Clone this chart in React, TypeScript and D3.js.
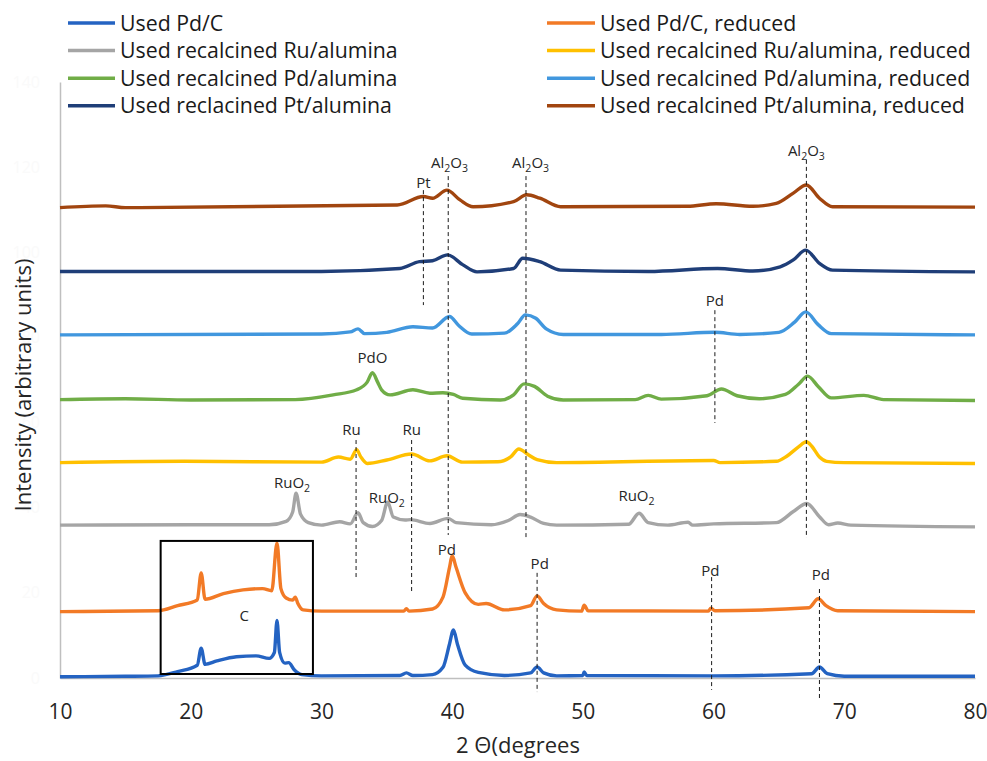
import React, { useEffect, useRef } from "react";
import * as d3 from "d3";

// legend / series
const seriesNames = [
  "Used Pd/C",
  "Used recalcined Ru/alumina",
  "Used recalcined Pd/alumina",
  "Used reclacined Pt/alumina",
  "Used Pd/C, reduced",
  "Used recalcined Ru/alumina, reduced",
  "Used recalcined Pd/alumina, reduced",
  "Used recalcined Pt/alumina, reduced",
];
const seriesColors = [
  "#2463c2",
  "#a5a5a5",
  "#70ad47",
  "#1f3e78",
  "#f27a26",
  "#ffc000",
  "#4197de",
  "#a1450f",
];

// patterns (2 theta, intensity with vertical offset)
const pdcTheta = [10, 15, 17.5, 19, 20.5, 20.8, 21.1, 22, 23.5, 25, 26, 26.4, 26.6, 26.8, 27.2, 27.5, 27.9, 28.5, 30, 36, 36.5, 37, 38.5, 39.3, 39.8, 40.1, 40.4, 41, 42, 44, 46, 46.5, 47, 48, 50, 50.1, 50.3, 60, 67.5, 68.1, 68.7, 70, 80];
const pdcI = [0.3, 0.4, 0.5, 1.5, 3.0, 7.0, 3.2, 4.0, 5.0, 5.2, 4.6, 6, 13.5, 6, 3.5, 3.6, 2, 0.8, 0.5, 0.6, 1.2, 0.6, 0.8, 2.5, 8, 11.3, 8, 3, 1.3, 0.6, 1.2, 2.6, 1.2, 0.5, 0.6, 1.4, 0.6, 0.5, 1, 2.6, 1, 0.4, 0.4];

const pdcRedTheta = [10, 17.5, 19, 20.5, 20.8, 21.1, 22.5, 24, 25.5, 26.2, 26.6, 26.9, 27.3, 27.8, 28.0, 28.2, 28.6, 30, 36.3, 36.5, 36.7, 38.5, 39.3, 39.8, 40.0, 40.3, 41, 42, 42.6, 44, 46, 46.5, 47, 48, 49.9, 50.1, 50.4, 59.6, 59.8, 60.1, 67.3, 68.0, 68.6, 69.5, 80];
const pdcRedI = [15.6, 15.8, 17, 18.3, 24.7, 18.5, 19.8, 20.7, 21, 20.5, 31.7, 21, 18.8, 18.3, 19.0, 17.5, 16, 15.7, 15.7, 16.3, 15.7, 16.2, 19, 26, 28.7, 26, 20, 17.3, 17.5, 16, 17, 19.3, 17.5, 16, 15.7, 17.1, 15.8, 15.7, 16.4, 15.8, 16.5, 18.6, 17, 15.8, 15.6];

const ruTheta = [10, 20, 26, 27.3, 27.8, 28.06, 28.4, 29, 30, 31.4, 32.2, 32.8, 33.2, 33.9, 34.6, 35.07, 35.5, 36.4, 36.8, 38.3, 39.7, 40.3, 43, 44.3, 45.2, 46.0, 47, 48, 53.5, 54.3, 55, 56.5, 58.05, 58.4, 60, 64.8, 66.1, 67.13, 68.1, 68.8, 69.5, 70.5, 80];
const ruI = [35.9, 36.0, 36.0, 36.8, 39, 43.4, 38.5, 36.5, 35.9, 36.7, 36.2, 38.8, 36.5, 35.6, 37, 41.3, 37.8, 37.1, 37.2, 36.3, 37.5, 36.5, 36, 37, 38.4, 37.8, 36.3, 35.9, 36.1, 38.7, 36.5, 35.9, 36.6, 35.9, 36.2, 36.5, 39.1, 41.0, 37.9, 36.0, 36.4, 35.9, 35.5];

const ruRedTheta = [10, 19.5, 30, 31.3, 32.2, 32.7, 33.0, 33.5, 35.0, 36.9, 38.3, 39.6, 40.8, 43.5, 44.5, 45.1, 45.8, 46.5, 48, 60, 60.5, 64.8, 65.6, 66.5, 67.1, 67.5, 68.1, 68.65, 70, 80];
const ruRedI = [50.6, 50.9, 50.7, 51.9, 51.4, 53.6, 52, 50.4, 51.2, 52.6, 51.0, 52.2, 50.7, 50.8, 52, 53.8, 52.5, 51.3, 50.6, 51.1, 50.6, 50.9, 52.1, 54.3, 55.5, 54.5, 51.9, 50.9, 50.6, 50.4];

const pdTheta = [10, 15, 20, 28, 30.9, 32.7, 33.5, 33.9, 34.3, 34.6, 35.25, 37, 38.3, 39.3, 40.1, 40.8, 43.7, 44.7, 45.5, 46.3, 47.3, 48.5, 54, 55, 56, 59.5, 60.6, 61.8, 63.5, 65.5, 66.5, 67.2, 68.0, 69, 71.5, 73, 80];
const pdI = [65.4, 65.6, 65.3, 65.4, 66.5, 67.7, 69.5, 71.7, 69.5, 67.7, 66.5, 67.7, 66.9, 67.0, 66.6, 65.7, 65.3, 66.5, 69.1, 68.5, 66.2, 65.3, 65.4, 66.4, 65.5, 66.3, 67.9, 66.3, 65.6, 66.6, 69, 70.9, 68.5, 65.8, 66.4, 65.4, 65.2];

const pdRedTheta = [10, 30, 32.2, 32.8, 33.3, 35, 37, 38.5, 39.8, 40.5, 41.5, 44, 45.0, 45.6, 46.4, 47.2, 48.5, 56, 60.1, 62, 65, 66.2, 67.05, 68, 69, 80];
const pdRedI = [80.6, 80.8, 81.3, 82.0, 80.9, 81.2, 82.5, 82.2, 84.9, 82.8, 80.8, 81.0, 83.2, 85.3, 84.5, 82, 80.7, 80.7, 81.2, 80.7, 81.2, 83.6, 86.0, 83, 80.9, 80.6];

const ptTheta = [10, 30, 36, 37.5, 38.5, 39.65, 40.8, 41.9, 44.7, 45.4, 46.7, 48.3, 55, 60.3, 63, 65.1, 66.1, 67.05, 68.1, 69.1, 80];
const ptI = [95.5, 95.5, 96.2, 97.8, 98.0, 99.4, 97.1, 95.4, 96.2, 98.6, 97.8, 95.8, 95.5, 96.2, 95.6, 96.6, 98.2, 100.5, 97.4, 95.8, 95.4];

const ptRedTheta = [10, 13.5, 15, 35.8, 37.8, 38.5, 39.6, 40.6, 41.6, 44.7, 45.7, 46.7, 48.3, 58, 60.2, 63, 64.8, 66.1, 67.1, 68.1, 69.1, 80];
const ptRedI = [110.5, 110.9, 110.5, 111.1, 113.1, 112.7, 114.6, 112.3, 110.7, 111.9, 113.5, 112.7, 110.7, 110.8, 111.4, 110.8, 111.5, 113.9, 115.8, 112.7, 110.7, 110.6];

const seriesTheta = [pdcTheta, ruTheta, pdTheta, ptTheta, pdcRedTheta, ruRedTheta, pdRedTheta, ptRedTheta];
const seriesI = [pdcI, ruI, pdI, ptI, pdcRedI, ruRedI, pdRedI, ptRedI];

// axes
const xTicks = [10, 20, 30, 40, 50, 60, 70, 80];
const yTicks = [0, 20, 40, 60, 80, 100, 120, 140];

// peak annotations
const labelText = ["Al2O3", "Al2O3", "Al2O3", "Pt", "Pd", "PdO", "Ru", "Ru", "RuO2", "RuO2", "RuO2", "Pd", "Pd", "Pd", "Pd", "C"];
const labelTheta = [39.8, 46.0, 67.1, 37.8, 60.1, 33.9, 32.3, 36.9, 27.75, 35.0, 54.1, 39.6, 46.7, 59.75, 68.2, 24.1];
const labelI = [119.8, 119.8, 122.6, 115.1, 87.4, 74.0, 57.1, 57.1, 44.6, 41.1, 41.6, 28.9, 25.6, 24.0, 23.0, 13.4];

const dashTheta = [37.8, 39.7, 45.65, 67.1, 32.65, 36.9, 60.1, 46.5, 59.85, 68.1];
const dashTop = [114.6, 117.9, 117.9, 121.7, 55.9, 55.9, 86.4, 24.7, 23.7, 20.9];
const dashBottom = [87.6, 33.6, 32.4, 32.9, 23.5, 20.2, 59.9, -3.3, -2.8, -5.2];

// carbon box (2 theta, intensity)
const boxTheta = [17.7, 29.35];
const boxI = [0.94, 32.2];

const FONT = "'Open Sans', sans-serif";

export default function App() {
  const ref = useRef<SVGSVGElement>(null);

  useEffect(() => {
    const width = 987;
    const height = 761;
    const margin = { top: 82, right: 12, bottom: 83, left: 60 };

    const svg = d3.select(ref.current);
    svg.selectAll("*").remove();

    const x = d3.scaleLinear().domain([10, 80]).range([margin.left, width - margin.right]);
    const y = d3.scaleLinear().domain([0, 140]).range([height - margin.bottom, margin.top]);

    // Eixo Y (labels nearly white, as in the source)
    const gy = svg
      .append("g")
      .attr("transform", `translate(${margin.left},0)`)
      .call(d3.axisLeft(y).tickValues(yTicks).tickSize(0).tickPadding(20));
    gy.select(".domain").attr("stroke", "#bfbfbf").attr("stroke-width", 1.5);
    gy.selectAll("text").attr("fill", "#fafafa").style("font-size", "16px").style("font-family", FONT);

    // Eixo X
    const gx = svg
      .append("g")
      .attr("transform", `translate(0,${height - margin.bottom})`)
      .call(d3.axisBottom(x).tickValues(xTicks).tickSize(0).tickPadding(26));
    gx.select(".domain").attr("stroke", "#bfbfbf").attr("stroke-width", 1.5);
    gx.selectAll("text").attr("fill", "#262626").style("font-size", "21px").style("font-family", FONT);

    // axis titles
    svg
      .append("text")
      .attr("x", 518)
      .attr("y", 753)
      .attr("text-anchor", "middle")
      .attr("fill", "#262626")
      .style("font-size", "22px")
      .style("font-family", FONT)
      .text("2 Θ(degrees");

    svg
      .append("text")
      .attr("transform", "translate(31,385) rotate(-90)")
      .attr("text-anchor", "middle")
      .attr("fill", "#262626")
      .style("font-size", "22px")
      .style("font-family", FONT)
      .text("Intensity (arbitrary units)");

    // patterns
    seriesTheta.forEach((th, s) => {
      const ints = seriesI[s];
      const gen = d3
        .line<number>()
        .x((d) => x(d))
        .y((_, i) => y(ints[i]))
        .curve(d3.curveMonotoneX);
      svg
        .append("path")
        .attr("d", gen(th))
        .attr("fill", "none")
        .attr("stroke", seriesColors[s])
        .attr("stroke-width", 3.4)
        .attr("stroke-linejoin", "round");
    });

    // dashed markers
    svg
      .selectAll(".dash")
      .data(dashTheta)
      .join("line")
      .attr("x1", (d) => x(d))
      .attr("x2", (d) => x(d))
      .attr("y1", (_, i) => y(dashTop[i]))
      .attr("y2", (_, i) => y(dashBottom[i]))
      .attr("stroke", "#1a1a1a")
      .attr("stroke-width", 1)
      .attr("stroke-dasharray", "4,3");

    // carbon box
    svg
      .append("rect")
      .attr("x", x(boxTheta[0]))
      .attr("y", y(boxI[1]))
      .attr("width", x(boxTheta[1]) - x(boxTheta[0]))
      .attr("height", y(boxI[0]) - y(boxI[1]))
      .attr("fill", "none")
      .attr("stroke", "#000")
      .attr("stroke-width", 2);

    // peak labels with subscripts
    labelText.forEach((lbl, i) => {
      const t = svg
        .append("text")
        .attr("x", x(labelTheta[i]))
        .attr("y", y(labelI[i]))
        .attr("text-anchor", "middle")
        .attr("fill", "#262626")
        .style("font-size", "15px")
        .style("font-family", FONT);
      const parts = lbl.match(/[A-Za-z]+|\d+/g) || [];
      let prevSub = false;
      parts.forEach((p) => {
        const sub = /\d/.test(p);
        const ts = t.append("tspan").text(p);
        if (sub) ts.attr("font-size", 10.5).attr("dy", 4);
        else if (prevSub) ts.attr("dy", -4);
        prevSub = sub;
      });
    });

    // legend
    const legend = svg.append("g");
    seriesNames.forEach((name, i) => {
      const col = i < 4 ? 0 : 1;
      const row = i % 4;
      const lx = col === 0 ? 68 : 547;
      const ly = 23 + row * 27.6;
      legend
        .append("line")
        .attr("x1", lx)
        .attr("x2", col === 0 ? 115 : 595)
        .attr("y1", ly)
        .attr("y2", ly)
        .attr("stroke", seriesColors[i])
        .attr("stroke-width", 3.5);
      legend
        .append("text")
        .attr("x", col === 0 ? 120 : 600)
        .attr("y", ly)
        .attr("dy", "0.36em")
        .attr("fill", "#1a1a1a")
        .style("font-size", "21.3px")
        .style("font-family", FONT)
        .text(name);
    });
  }, []);

  return (
    <svg
      ref={ref}
      width={987}
      height={761}
      style={{ position: "absolute", left: 0, top: 0, background: "#fff" }}
    ></svg>
  );
}
